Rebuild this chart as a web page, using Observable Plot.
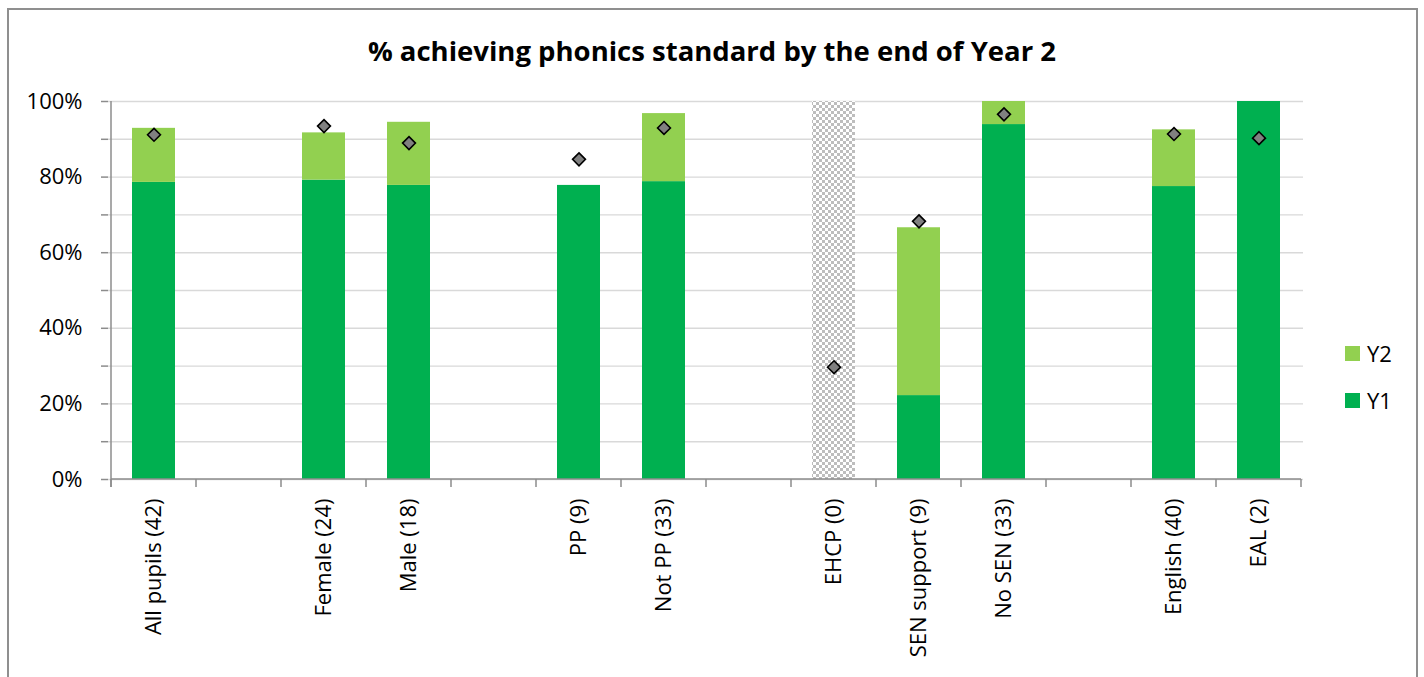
<!DOCTYPE html>
<html><head><meta charset="utf-8">
<script src="https://cdn.jsdelivr.net/npm/d3@7"></script>
<script src="https://cdn.jsdelivr.net/npm/@observablehq/plot@0.6"></script>
<style>
body{margin:0;background:#fff;font-family:"Open Sans",sans-serif;}
#wrap{position:relative;width:1424px;height:677px;overflow:hidden;background:#fff}
#frame{position:absolute;left:7px;top:8px;width:1411px;height:720px;border:2px solid #8f8f8f;box-sizing:border-box}
#title{position:absolute;left:0;width:1424px;top:31px;text-align:center;font-weight:bold;font-size:27.5px;color:#000;line-height:40px}
#chart{position:absolute;left:0;top:0}
.leg{position:absolute;left:1345px;font-size:22px;display:flex;align-items:center;height:16px;color:#000}
.sw{width:15px;height:15px;margin-right:7px}
</style></head>
<body>
<div id="wrap">
  <div id="frame"></div>
  <div id="chart"></div>
  <div id="title">% achieving phonics standard by the end of Year 2</div>
  <div class="leg" style="top:345px"><div class="sw" style="background:#92D050"></div>Y2</div>
  <div class="leg" style="top:392px"><div class="sw" style="background:#00B050"></div>Y1</div>
</div>
<script>
const categories = ["All pupils (42)", " ", "Female (24)", "Male (18)", "  ", "PP (9)", "Not PP (33)", "   ", "EHCP (0)", "SEN support (9)", "No SEN (33)", "    ", "English (40)", "EAL (2)"];
const y1Values = [78.6, null, 79.2, 77.8, null, 77.8, 78.8, null, null, 22.2, 93.9, null, 77.5, 100];
const y2Values = [14.3, null, 12.5, 16.7, null, 0, 18.0, null, null, 44.4, 6.1, null, 15.0, 0];
const comparison = [91.2, null, 93.5, 89.0, null, 84.7, 93.0, null, 29.7, 68.3, 96.6, null, 91.4, 90.3];
const noDataCategories = ["EHCP (0)"];
const noDataLevel = 100;
const seriesNames = ["Y1", "Y2"];
const seriesColors = ["#00B050", "#92D050"];
const yMinorTicks = [0, 10, 20, 30, 40, 50, 60, 70, 80, 90, 100];
const yLabelTicks = [0, 20, 40, 60, 80, 100];

const stackRows = [];
categories.forEach((c, i) => {
  if (y1Values[i] != null) stackRows.push({cat: c, series: "Y1", value: y1Values[i]});
});
categories.forEach((c, i) => {
  if (y2Values[i] != null) stackRows.push({cat: c, series: "Y2", value: y2Values[i]});
});
const dotRows = categories.map((c, i) => ({cat: c, value: comparison[i]})).filter(d => d.value != null);

function separators(index, scales) {
  const x = scales.x, y = scales.y;
  const bw = typeof x.bandwidth === "function" ? x.bandwidth() : scales.scales.x.bandwidth;
  const st = typeof x.step === "function" ? x.step() : scales.scales.x.step;
  const g = d3.create("svg:g").attr("stroke", "#8c8c8c").attr("stroke-width", 1.5).attr("fill", "none");
  const y0 = y(0);
  const bounds = categories.map(c => x(c) + bw / 2 - st / 2);
  bounds.push(bounds[bounds.length - 1] + st);
  g.append("line").attr("x1", bounds[0]).attr("x2", bounds[0]).attr("y1", y(100)).attr("y2", y0 + 8);
  g.append("line").attr("x1", bounds[0]).attr("x2", bounds[bounds.length - 1]).attr("y1", y0).attr("y2", y0);
  bounds.forEach(b => g.append("line").attr("x1", b).attr("x2", b).attr("y1", y0).attr("y2", y0 + 8));
  return g.node();
}

const svg = Plot.plot({
  width: 1424,
  height: 677,
  marginLeft: 108,
  marginRight: 121,
  marginTop: 101,
  marginBottom: 198,
  style: {fontFamily: "'Open Sans', sans-serif", color: "#000", background: "transparent"},
  x: {domain: categories, paddingInner: 0.5, paddingOuter: 0.25, label: null},
  y: {domain: [0, 100], label: null},
  color: {domain: seriesNames, range: seriesColors},
  marks: [
    Plot.gridY(yMinorTicks, {stroke: "#d9d9d9", strokeOpacity: 1, strokeWidth: 1.4}),
    Plot.barY(noDataCategories, {x: d => d, y: () => noDataLevel, fill: "url(#nodata)"}),
    Plot.barY(stackRows, {x: "cat", y: "value", fill: "series"}),
    Plot.axisY(yMinorTicks, {tickSize: 7, tickFormat: () => "", stroke: "#8c8c8c", strokeWidth: 1.5}),
    Plot.axisY(yLabelTicks, {tickSize: 0, tickPadding: 26, tickFormat: d => d + "%", fontSize: 22, fill: "#000"}),
    Plot.axisX({tickSize: 0, tickPadding: 19, tickRotate: -90, fontSize: 22, fill: "#000", tickFormat: d => d.trim()}),
    separators,
    Plot.dot(dotRows, {x: "cat", y: "value", symbol: "diamond2", r: 5.8, fill: "#808080", stroke: "#000", strokeWidth: 1.6})
  ]
});

const defs = d3.select(svg).insert("defs", ":first-child");
const pat = defs.append("pattern").attr("id", "nodata").attr("width", 6).attr("height", 6).attr("patternUnits", "userSpaceOnUse");
pat.append("rect").attr("width", 6).attr("height", 6).attr("fill", "#ffffff");
pat.append("rect").attr("width", 3).attr("height", 3).attr("fill", "#bdbdbd");
pat.append("rect").attr("x", 3).attr("y", 3).attr("width", 3).attr("height", 3).attr("fill", "#bdbdbd");
document.getElementById("chart").appendChild(svg);
</script>
</body></html>
